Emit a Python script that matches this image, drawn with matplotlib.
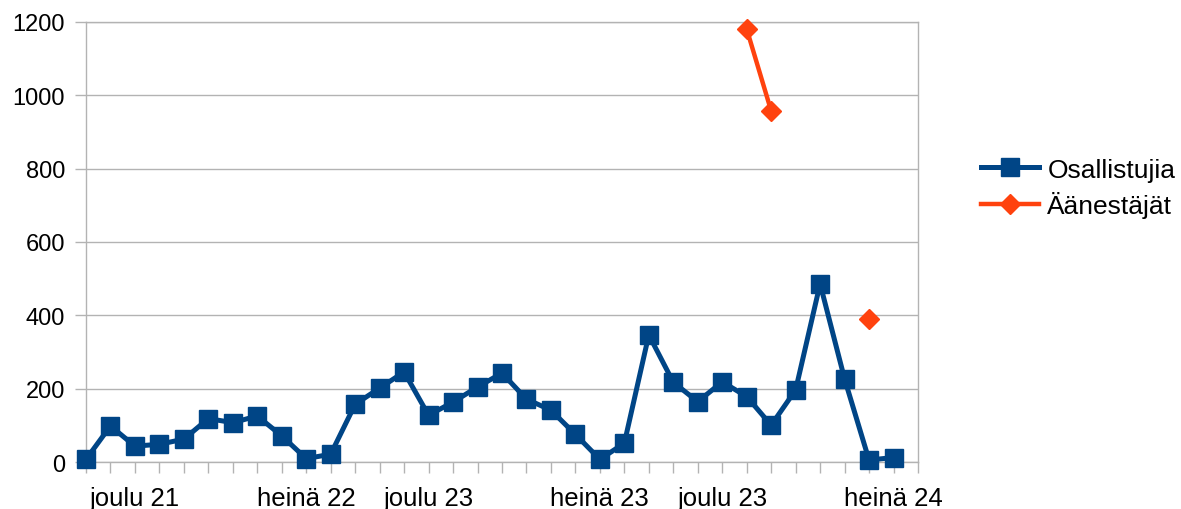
import numpy as np
import matplotlib
matplotlib.use("Agg")
import matplotlib.pyplot as plt

plt.rcParams["font.family"] = ["Liberation Sans", "DejaVu Sans"]

# kuukausittaiset arvot (indeksi = kuukausi)
osallistujia = [8, 99, 44, 49, 63, 119, 108, 126, 72, 10, 22, 158,
                202, 246, 128, 164, 205, 243, 172, 142, 76, 8, 52, 347,
                218, 165, 219, 179, 101, 197, 486, 227, 6, 13]
aanestajat = [np.nan] * 27 + [1180, 957, np.nan, np.nan, np.nan, 390, np.nan]

# x-akselin nimiöt
label_pos = [2, 9, 14, 21, 26, 33]
label_text = ["joulu 21", "heinä 22", "joulu 23", "heinä 23", "joulu 23", "heinä 24"]

blue = "#004586"
orange = "#ff420e"
grid = "#b3b3b3"

fig = plt.figure(figsize=(11.81, 5.10), dpi=100)
ax = fig.add_axes([0.0728, 0.0916, 0.7045, 0.8639])

x = np.arange(len(osallistujia))
ax.plot(x, osallistujia, color=blue, lw=3.6, marker="s", markersize=13.5,
        label="Osallistujia", zorder=3, clip_on=False)
ax.plot(x, aanestajat, color=orange, lw=3.2, marker="D", markersize=10,
        label="Äänestäjät", zorder=3, clip_on=False)

ax.set_xlim(0, len(osallistujia))
ax.set_ylim(0, 1200)
ax.set_yticks(np.arange(0, 1201, 200))
ax.yaxis.grid(True, color=grid, lw=1)
ax.set_axisbelow(True)

ticks = np.arange(0, len(osallistujia) + 1)
ax.set_xticks(ticks)
labels = [""] * len(ticks)
for p, t in zip(label_pos, label_text):
    labels[p] = t
ax.set_xticklabels(labels)

for s in ["left", "right", "bottom", "top"]:
    ax.spines[s].set_color(grid)
    ax.spines[s].set_linewidth(1)
ax.tick_params(axis="both", colors=grid, labelcolor="black", labelsize=17,
               length=8, width=1)
ax.tick_params(axis="x", pad=9, labelsize=18.5)
ax.tick_params(axis="y", pad=7)

leg = fig.legend(loc="center left", bbox_to_anchor=(0.822, 0.63), frameon=False,
                 fontsize=19, handlelength=2.2, handletextpad=0.3,
                 labelspacing=0.35, borderaxespad=0)

fig.savefig("out.png", dpi=100)
